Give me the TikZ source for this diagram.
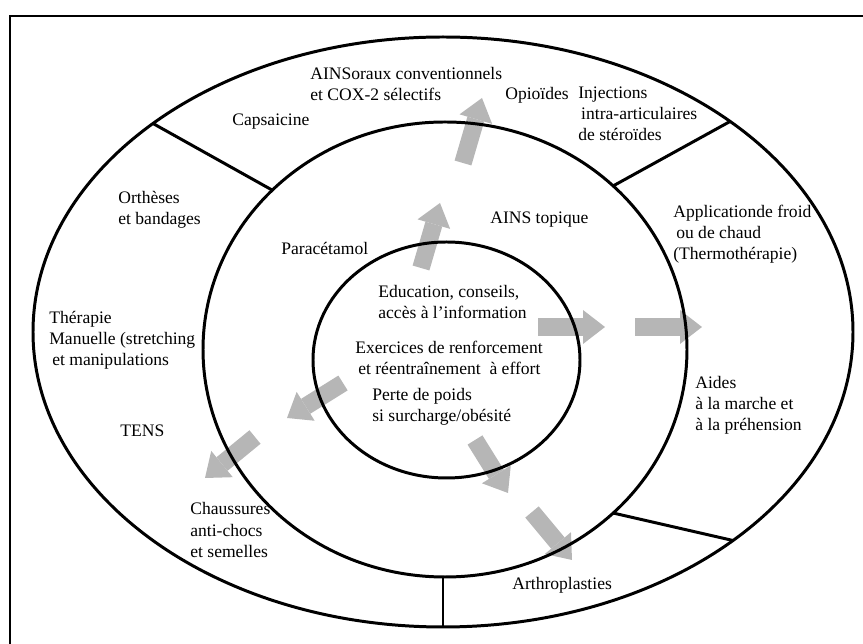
\documentclass[tikz,border=0pt]{standalone}
\usepackage{fontspec}
\setmainfont{Liberation Serif}
\usetikzlibrary{arrows.meta,positioning}
\definecolor{arrowgray}{RGB}{182,182,182}

\begin{document}
\begin{tikzpicture}[x=0.02cm,y=-0.02cm,
  ring/.style={line width=1.7pt},
  lbl/.style={align=left,anchor=west,inner sep=0pt},
  bigarrow/.style={draw=arrowgray,line width=0.35cm,-{Triangle[length=0.44cm,width=0.68cm,line width=0pt]}}]
 \useasboundingbox (0,0) rectangle (863,644);
 % frame
 \draw[line width=0.6pt] (10,644) -- (10,16) -- (863,16);

 % arrow coordinates
 \coordinate (s1) at (421,268); \coordinate (e1) at (440,203);
 \coordinate (s2) at (463,163); \coordinate (e2) at (482,98);
 \coordinate (s3) at (538,327); \coordinate (e3) at (605,327);
 \coordinate (s4) at (635,327); \coordinate (e4) at (702,327);
 \coordinate (s5) at (343,383); \coordinate (e5) at (287,418);
 \coordinate (s6) at (255,437); \coordinate (e6) at (205,478);
 \coordinate (s7) at (475,440); \coordinate (e7) at (508,493);
 \coordinate (s8) at (532,512); \coordinate (e8) at (572,560);

 % arrows
 \foreach \x in {1,...,8} {
  \draw[bigarrow] (s\x) -- (e\x);
 };

 % rings
 \draw[ring] (443,332) ellipse [x radius=410,y radius=295];
 \draw[ring] (445,349.5) ellipse [x radius=242,y radius=227.5];
 \draw[ring] (446.5,360) ellipse [x radius=133.5,y radius=118];

 % divider coordinates
 \coordinate (p1) at (153,123.5);
 \coordinate (q1) at (272,190);
 \coordinate (p2) at (730,121.5);
 \coordinate (q2) at (613,186);
 \coordinate (p3) at (733,540.5);
 \coordinate (q3) at (613,513);
 \coordinate (p4) at (443,627);
 \coordinate (q4) at (443,577);

 % dividers
 \foreach \x in {1,...,4} {
  \draw[ring] (p\x) -- (q\x);
 };

 % labels
 \node[lbl] (l0) at (310,84) {AINSoraux conventionnels\\et COX-2 sélectifs};
 \node[lbl] (l1) at (232,122) {Capsaicine};
 \node[lbl] (l2) at (505,95) {Opioïdes};
 \node[lbl,anchor=north west] (l3) at ([xshift=5pt]l2.north east) {Injections\\\,intra-articulaires\\de stéroïdes};
 \node[lbl] (l4) at (118,210) {Orthèses\\et bandages};
 \node[lbl] (l5) at (281,248) {Paracétamol};
 \node[lbl] (l6) at (490,220) {AINS topique};
 \node[lbl] (l7) at (673,234) {Applicationde froid\\\,ou de chaud\\(Thermothérapie)};
 \node[lbl] (l8) at (49,340) {Thérapie\\Manuelle (stretching\\\,et manipulations};
 \node[lbl] (l9) at (378,302) {Education, conseils,\\accès à l’information};
 \node[lbl] (l10) at (355,358) {Exercices de renforcement\\\,et réentraînement~~à effort};
 \node[lbl] (l11) at (372,407) {Perte de poids\\si surcharge/obésité};
 \node[lbl] (l12) at (695,405) {Aides\\à la marche et\\à la préhension};
 \node[lbl] (l13) at (120,431) {TENS};
 \node[lbl] (l14) at (190,530) {Chaussures\\anti-chocs\\et semelles};
 \node[lbl] (l15) at (512,585) {Arthroplasties};
\end{tikzpicture}
\end{document}
